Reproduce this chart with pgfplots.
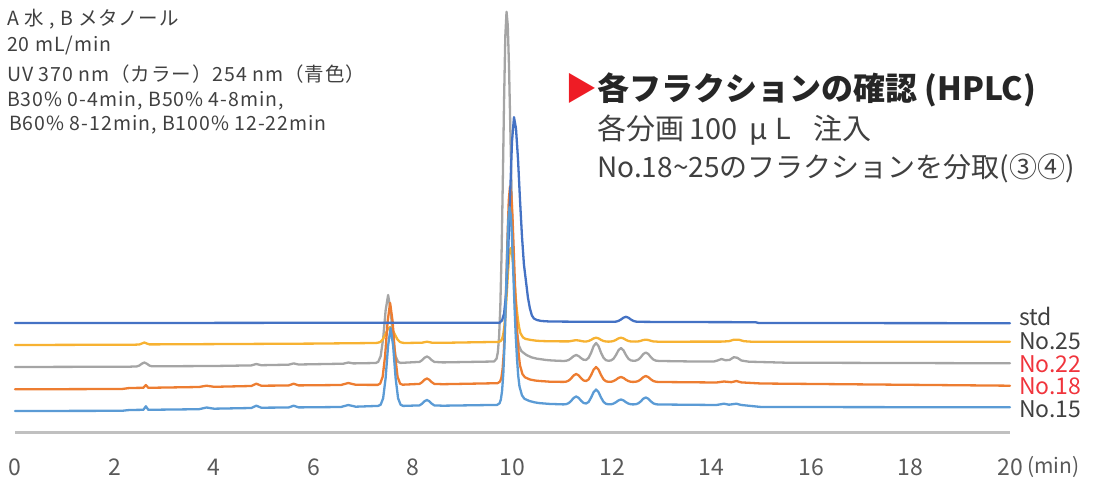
\documentclass[border=0pt]{standalone}
\usepackage{fontspec}
\setmainfont{Noto Sans CJK JP}
\newfontfamily\notefont[LetterSpace=5]{Noto Sans CJK JP}
\usepackage{pgfplots}
\pgfplotsset{compat=1.18}
\definecolor{cstd}{HTML}{4472C4}
\definecolor{cyel}{HTML}{F7B232}
\definecolor{cgry}{HTML}{A5A5A5}
\definecolor{corg}{HTML}{ED7D31}
\definecolor{cblu}{HTML}{5B9BD5}
\definecolor{caxis}{HTML}{C0C0C0}
\definecolor{ctick}{HTML}{595959}
\definecolor{ctxt}{HTML}{404040}
\definecolor{cred}{HTML}{F0343C}
\definecolor{ctri}{HTML}{EE1C25}
\begin{document}
\begin{tikzpicture}[x=1pt,y=1pt]
\useasboundingbox (0,0) rectangle (1095,477);
% top-left notes
\begin{scope}[every node/.style={anchor=west,inner sep=0pt,text=ctxt,font=\notefont\fontsize{19.5}{19.5}\selectfont}]
\node at (7,458) {A 水 , B メタノール};
\node at (7,431) {20 mL/min};
\node at (7,403) {UV 370 nm（カラー）254 nm（青色）};
\node at (7,376) {B30\% 0-4min, B50\% 4-8min,};
\node at (9,352) {B60\% 8-12min, B100\% 12-22min};
\end{scope}
% title block
\node[anchor=west,inner sep=0pt,font=\fontsize{32}{32}\selectfont] at (565,387) {{\color{ctri}▶}\textbf{\color{black!85}各フラクションの確認 (HPLC)}};
\node[anchor=west,inner sep=0pt,text=ctxt,font=\fontsize{29}{29}\selectfont] at (597,347) {各分画\hspace{5pt}100\hspace{12pt}μ\hspace{8pt}L\hspace{22pt}注入};
\node[anchor=west,inner sep=0pt,text=ctxt,font=\fontsize{28}{28}\selectfont] at (597,309) {No.18\textasciitilde25のフラクションを分取(③④)};
\begin{axis}[at={(15pt,45pt)}, anchor=south west, scale only axis,
  width=995pt, height=432pt, xmin=0, xmax=20, ymin=0, ymax=432,
  axis line style={draw=none}, ytick=\empty, xtick={0,2,...,20},
  major tick length=0pt, clip=false,
  /pgf/number format/assume math mode=true,
  xticklabel style={font=\fontsize{23}{23}\selectfont, text=ctick, anchor=center, yshift=-35pt, inner sep=0pt},
  every axis plot/.append style={line width=2.3pt, line join=round, line cap=round}]
\addplot[caxis, line width=3pt, line cap=butt] coordinates {(0,0) (20,0)};
% No.22 gray
\addplot[cgry] coordinates {(0,65) (2.3,65.3) (2.45,65.6) (2.5,66.5) (2.55,68.3) (2.6,69.5) (2.65,68.3) (2.7,66.5) (2.75,65.7) (4,66) (4.75,66.6) (4.85,68) (4.95,66.8) (5.5,67.3) (5.6,68.6) (5.7,67.5) (6.6,68.3) (6.7,69.5) (6.8,68.6) (7.25,69) (7.30,70.1) (7.35,75.8) (7.40,93.5) (7.45,121.7) (7.50,137) (7.55,121.7) (7.60,93.5) (7.65,75.8) (7.70,70.1) (7.75,69.1) (8.13,70.1) (8.18,71.7) (8.23,74.2) (8.28,75.5) (8.33,74.2) (8.38,71.7) (8.43,70.1) (8.6,69.6) (9.63,70.5) (9.68,73.4) (9.705,79.7) (9.73,94.8) (9.755,125.3) (9.78,177.3) (9.805,250.3) (9.83,330.3) (9.855,395.3) (9.88,420.3) (9.905,406.5) (9.93,365.5) (9.955,306.5) (9.98,244.5) (10.005,191.5) (10.03,151.5) (10.055,120.5) (10.08,102.5) (10.13,86.2) (10.18,80.8) (10.28,77) (10.38,74.7) (10.48,73.4) (10.68,72) (10.8,71.5)
(11.03,71) (11.08,71.3) (11.13,72) (11.18,73.8) (11.23,75.9) (11.28,77) (11.33,75.9) (11.38,73.8) (11.43,72.2) (11.48,72.1) (11.53,74.2) (11.58,79.2) (11.63,85.8) (11.68,89) (11.73,85.8) (11.78,79.2) (11.83,74.1) (11.88,71.8) (11.93,71.2) (11.98,71.6) (12.03,73.2) (12.08,77) (12.13,81.7) (12.18,84) (12.23,81.7) (12.28,77) (12.33,73.2) (12.38,71.6) (12.43,71.2) (12.48,71.4) (12.53,72.5) (12.58,74.9) (12.63,78) (12.68,79.5) (12.73,78) (12.78,74.9) (12.83,72.5) (12.88,71.4) (12.93,71.1) (12.98,71)
(13.5,70.6) (14.05,70.5) (14.12,71.5) (14.2,73) (14.28,71.8) (14.36,72) (14.45,74.8) (14.52,74.2) (14.6,71.5) (14.75,70.3) (15.5,69.3) (20,68.7)};
% No.25 yellow
\addplot[cyel] coordinates {(0,87) (2.4,87.3) (2.5,87.5) (2.55,88.5) (2.6,89.5) (2.65,88.5) (2.7,87.6) (4,87.9) (6,88.4) (7.24,89) (7.29,89.2) (7.34,90) (7.39,92.4) (7.44,97) (7.49,102.5) (7.54,105) (7.59,102.5) (7.64,97) (7.69,92.4) (7.74,90) (7.79,89.2) (7.84,89) (8.18,89.3) (8.28,90.3) (8.38,89.3) (8.6,89.2) (9.71,90.1) (9.76,90.8) (9.785,92.5) (9.81,96.6) (9.835,104.8) (9.86,118.8) (9.885,138.3) (9.91,159.9) (9.935,177.3) (9.96,184) (9.985,180.2) (10.01,169.2) (10.035,153.8) (10.06,137.3) (10.085,122.9) (10.11,112.3) (10.135,104) (10.16,98.8) (10.21,94.6) (10.26,93.1) (10.36,92.1) (10.46,91.4) (10.56,91) (10.76,90.7)
(11.13,90.6) (11.18,91) (11.23,91.5) (11.28,91.8) (11.33,91.5) (11.38,91) (11.43,90.6) (11.48,90.5) (11.53,91) (11.58,92.1) (11.63,93.6) (11.68,94.3) (11.73,93.6) (11.78,92.1) (11.83,91) (11.88,90.5) (11.93,90.35) (11.98,90.5) (12.03,91) (12.08,92.1) (12.13,93.6) (12.18,94.3) (12.23,93.6) (12.28,92.1) (12.33,91) (12.38,90.5) (12.48,90.4) (12.53,90.6) (12.58,91.2) (12.63,92) (12.68,92.3) (12.73,92) (12.78,91.2) (12.83,90.6) (12.93,90.3)
(14.2,90.4) (14.35,90.8) (14.45,92.3) (14.55,92.3) (14.65,90.8) (14.8,90.3) (20,90.3)};
% No.18 orange
\addplot[corg] coordinates {(0,42.7) (2.15,43) (2.3,44) (2.58,44.2) (2.63,47) (2.68,44.2) (3.7,45) (3.85,46.3) (4,45.2) (4.75,46) (4.85,48.3) (4.95,46.3) (5.5,46.5) (5.6,48.3) (5.7,46.6) (6.55,47) (6.7,49) (6.85,47.2) (7.29,47.1) (7.34,48.4) (7.39,55.2) (7.44,76.5) (7.49,110.6) (7.54,129) (7.59,110.6) (7.64,76.5) (7.69,55.2) (7.74,48.4) (7.79,47.3) (8.13,48.1) (8.18,49.7) (8.23,52.2) (8.28,53.5) (8.33,52.2) (8.38,49.7) (8.43,48.1) (8.6,47.8) (9.70,48.8) (9.75,50.4) (9.775,54) (9.80,62.5) (9.825,79.6) (9.85,109) (9.875,150) (9.90,195.3) (9.925,231.7) (9.95,245.7) (9.975,238) (10.0,215) (10.025,181.8) (10.05,147) (10.075,117) (10.10,94.7) (10.125,77.3) (10.15,66.8) (10.2,57.9) (10.25,54.7) (10.35,52.5) (10.45,51.5) (10.55,51) (10.75,50.3)
(11.03,50.1) (11.08,50.4) (11.13,51.4) (11.18,53.7) (11.23,56.6) (11.28,58) (11.33,56.6) (11.38,53.7) (11.43,51.5) (11.48,51) (11.53,52.6) (11.58,56.9) (11.63,62.3) (11.68,65) (11.73,62.3) (11.78,56.9) (11.83,52.6) (11.88,50.7) (11.93,50.2) (11.98,50.2) (12.03,50.9) (12.08,52.3) (12.13,54.1) (12.18,55) (12.23,54.1) (12.28,52.3) (12.33,50.9) (12.38,50.2) (12.43,50.1) (12.48,50.3) (12.53,51) (12.58,52.7) (12.63,54.9) (12.68,56) (12.73,54.9) (12.78,52.7) (12.83,51) (12.88,50.3) (12.93,50) (12.98,50)
(14.1,49.5) (14.25,50.5) (14.4,49.8) (14.5,51) (14.6,49.6) (15,48.5) (20,46.3)};
% std
\addplot[cstd] coordinates {(0,109) (2,109) (4,109.1) (6,109.2) (8,109.3) (9.74,109.3) (9.79,111.6) (9.83,118.3) (9.87,137.1) (9.91,176.1) (9.95,234) (9.99,290.6) (10.03,314.8) (10.07,303.5) (10.11,273.5) (10.15,232.9) (10.19,196) (10.23,167.3) (10.27,151) (10.31,134.5) (10.35,123.5) (10.39,116.5) (10.43,113.5) (10.49,112) (10.58,111) (10.75,110.5) (11.5,110.2) (12.03,110.2) (12.08,110.4) (12.13,111.1) (12.18,112.5) (12.23,114.3) (12.28,115.2) (12.33,114.3) (12.38,112.5) (12.43,111.1) (12.48,110.4) (12.53,110.2) (13,110) (14.88,109.8) (14.95,109) (20,108.8)};
% No.15 blue
\addplot[cblu] coordinates {(0,21) (2.15,21.2) (2.3,22) (2.58,22.2) (2.63,25.7) (2.68,22.2) (3.7,22.8) (3.85,24.5) (4,23.3) (4.75,24) (4.85,26.3) (4.95,24.3) (5.5,24.5) (5.6,26.3) (5.7,24.6) (6.55,25) (6.7,27) (6.85,25.3) (7.30,26.1) (7.35,27.3) (7.40,33.8) (7.45,54.1) (7.50,86.5) (7.55,104) (7.60,86.5) (7.65,54.1) (7.70,33.8) (7.75,27.3) (7.80,26.1) (8.13,26.6) (8.18,28.2) (8.23,30.7) (8.28,32) (8.33,30.7) (8.38,28.2) (8.43,26.6) (8.6,26.3) (9.69,27.1) (9.74,28.7) (9.765,32.3) (9.79,40.9) (9.815,58.1) (9.84,87.6) (9.865,128.8) (9.89,174.3) (9.915,211) (9.94,225) (9.965,217.1) (9.99,194) (10.015,160.5) (10.04,126) (10.065,96) (10.09,73.6) (10.115,56.2) (10.14,45.7) (10.19,36.7) (10.24,33.2) (10.34,31) (10.44,29.7) (10.54,28.9) (10.74,28.1)
(11.03,27.6) (11.08,27.9) (11.13,28.9) (11.18,31.2) (11.23,34.1) (11.28,35.5) (11.33,34.1) (11.38,31.2) (11.43,29) (11.48,28.5) (11.53,30.1) (11.58,34.4) (11.63,39.8) (11.68,42.5) (11.73,39.8) (11.78,34.4) (11.83,30.1) (11.88,28.2) (11.93,27.7) (11.98,27.7) (12.03,28.4) (12.08,29.8) (12.13,31.6) (12.18,32.5) (12.23,31.6) (12.28,29.8) (12.33,28.4) (12.38,27.7) (12.43,27.6) (12.48,27.8) (12.53,28.7) (12.58,30.7) (12.63,33.3) (12.68,34.5) (12.73,33.3) (12.78,30.7) (12.83,28.7) (12.88,27.8) (12.93,27.5) (12.98,27.5)
(14.1,27) (14.25,28.3) (14.35,27.3) (14.5,28.3) (14.6,27) (15,25) (20,24.7)};
% right labels
\begin{scope}[every node/.style={anchor=west,inner sep=0pt,font=\fontsize{23}{23}\selectfont}]
\node[text=ctxt] at (axis cs:20,115.3) [xshift=9pt] {std};
\node[text=ctxt] at (axis cs:20,90.3) [xshift=9pt] {No.25};
\node[text=cred] at (axis cs:20,68) [xshift=9pt] {No.22};
\node[text=cred] at (axis cs:20,45.3) [xshift=9pt] {No.18};
\node[text=ctxt] at (axis cs:20,23) [xshift=9pt] {No.15};
\node[text=ctick,font=\fontsize{21}{21}\selectfont] at (axis cs:20,0) [xshift=17pt,yshift=-35pt] {(min)};
\end{scope}
\end{axis}
\end{tikzpicture}
\end{document}
